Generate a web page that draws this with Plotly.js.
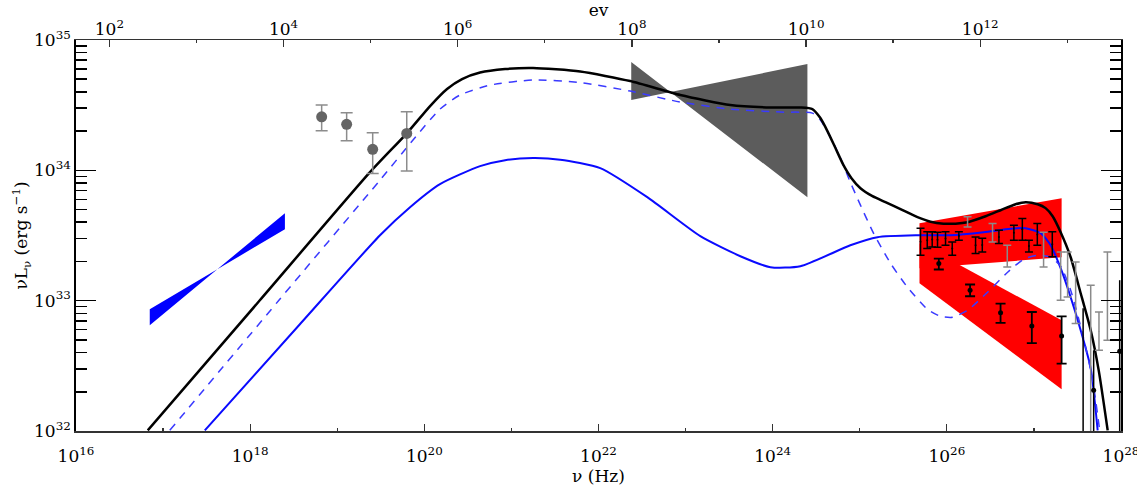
<!DOCTYPE html>
<html>
<head>
<meta charset="utf-8">
<script src="https://cdn.plot.ly/plotly-3.0.1.min.js"></script>
<style>
  html, body { margin: 0; padding: 0; background: #fff; }
  #sed { width: 1137px; height: 487px; }
</style>
</head>
<body>
<div id="sed"></div>
<script>
// All values are log10(nu / Hz) and log10(nu L_nu / erg s^-1).

// Total SED model (black)
const totalLogNu = [16.824, 18.111, 19.376, 19.801, 20.066, 20.261, 20.433, 20.640, 20.928, 21.249, 21.790, 22.364, 22.939, 23.514, 23.974, 24.318, 24.456, 24.548, 24.629, 24.721, 24.813, 24.905, 25.008, 25.146, 25.295, 25.468, 25.663, 25.813, 25.962, 26.100, 26.238, 26.445, 26.617, 26.790, 26.905, 27.043, 27.134, 27.215, 27.307, 27.422, 27.537, 27.652, 27.744, 27.847];
const totalLogL  = [32.005, 33.003, 33.986, 34.286, 34.493, 34.624, 34.700, 34.750, 34.777, 34.785, 34.758, 34.685, 34.578, 34.501, 34.482, 34.482, 34.470, 34.401, 34.301, 34.171, 34.040, 33.940, 33.863, 33.802, 33.756, 33.702, 33.641, 33.606, 33.591, 33.591, 33.602, 33.648, 33.694, 33.740, 33.756, 33.740, 33.710, 33.648, 33.525, 33.333, 33.057, 32.773, 32.465, 32.005];

// Model component (blue dashed)
const dashLogNu = [17.077, 18.330, 19.491, 19.870, 20.180, 20.410, 20.755, 21.249, 21.790, 22.364, 22.939, 23.514, 24.089, 24.456, 24.548, 24.663, 24.778, 24.892, 25.008, 25.158, 25.353, 25.548, 25.778, 25.928, 26.066, 26.238, 26.468, 26.698, 26.882, 27.043, 27.192, 27.307, 27.422, 27.571, 27.675, 27.755];
const dashLogL  = [32.005, 33.003, 33.925, 34.232, 34.470, 34.578, 34.654, 34.693, 34.674, 34.608, 34.524, 34.470, 34.447, 34.439, 34.386, 34.255, 34.094, 33.909, 33.733, 33.518, 33.287, 33.103, 32.934, 32.880, 32.873, 32.926, 33.065, 33.218, 33.318, 33.349, 33.333, 33.264, 33.080, 32.711, 32.389, 32.005];

// Model component (blue solid)
const blueLogNu = [17.479, 18.571, 19.491, 19.836, 20.180, 20.640, 20.928, 21.249, 21.560, 22.020, 22.560, 23.169, 23.629, 23.974, 24.318, 24.892, 25.203, 25.663, 26.043, 26.422, 26.732, 26.905, 27.077, 27.192, 27.307, 27.422, 27.537, 27.652, 27.732];
const blueLogL  = [32.005, 32.819, 33.502, 33.717, 33.894, 34.032, 34.078, 34.094, 34.082, 34.017, 33.794, 33.495, 33.341, 33.257, 33.264, 33.425, 33.487, 33.502, 33.502, 33.525, 33.552, 33.556, 33.518, 33.425, 33.249, 33.026, 32.773, 32.481, 32.005];

// Power-law bow ties: [start, end] of the band and the two limiting slopes
const uvBandLogNu    = [16.847, 18.399];
const uvEdgeALogL    = [32.934, 33.548];
const uvEdgeBLogL    = [32.811, 33.671];

const gevBandLogNu   = [22.376, 24.399];
const gevEdgeALogL   = [34.831, 33.794];
const gevEdgeBLogL   = [34.539, 34.816];

const tevHighLogNu   = [25.686, 27.318];
const tevHighTopLogL = [33.594, 33.786];
const tevHighBotLogL = [33.249, 33.333];

const tevLowLogNu    = [25.686, 27.318];
const tevLowTopLogL  = [33.441, 32.849];
const tevLowBotLogL  = [33.134, 32.320];

// X-ray points (grey)
const xrayLogNu = [18.821, 19.108, 19.407, 19.798];
const xrayLogL  = [34.411, 34.353, 34.161, 34.283];
const xrayLogHi = [34.501, 34.442, 34.288, 34.449];
const xrayLogLo = [34.303, 34.227, 33.976, 33.994];

// TeV spectrum, low state (black dots)
const lowLogNu = [25.908, 26.267, 26.617, 26.976, 27.318];
const lowLogL  = [33.285, 33.080, 32.907, 32.805, 32.728];
const lowLogHi = [33.323, 33.124, 32.978, 32.913, 32.880];
const lowLogLo = [33.239, 33.034, 32.829, 32.675, 32.517];

// TeV spectrum, high state (black bars)
const highLogNu = [25.698, 25.775, 25.832, 25.893, 25.985, 26.062, 26.138, 26.330, 26.407, 26.598, 26.770, 26.867, 26.943, 27.039, 27.211];
const highLogL  = [33.452, 33.464, 33.470, 33.468, 33.477, 33.400, 33.496, 33.426, 33.427, 33.489, 33.521, 33.547, 33.419, 33.508, 33.432];
const highLogHi = [33.556, 33.528, 33.528, 33.525, 33.528, 33.451, 33.528, 33.489, 33.479, 33.541, 33.579, 33.631, 33.464, 33.592, 33.528];
const highLogLo = [33.349, 33.400, 33.412, 33.410, 33.425, 33.349, 33.464, 33.362, 33.374, 33.439, 33.464, 33.464, 33.374, 33.425, 33.336];

// TeV spectrum, other epoch (grey bars)
const greyLogNu = [26.238, 26.525, 26.694, 27.111, 27.307, 27.387, 27.479, 27.652, 27.747, 27.844];
const greyLogL  = [33.605, 33.522, 33.342, 33.392, 33.189, 33.201, 33.061, 32.300, 32.766, 32.990];
const greyLogHi = [33.643, 33.592, 33.425, 33.525, 33.374, 33.374, 33.297, 33.118, 32.913, 33.374];
const greyLogLo = [33.566, 33.451, 33.259, 33.259, 33.003, 33.028, 32.824, 31.800, 32.619, 32.696];

// Highest-energy bins (black, lower edge off scale)
const tailLogNu = [27.565, 27.686, 27.985];
const tailLogL  = [31.950, 32.312, 32.611];
const tailLogHi = [32.942, 32.619, 33.157];
const tailLogLo = [31.800, 31.800, 31.800];

// Axis extents, and photon energy for the top axis: E = h nu
const LOG_NU_MIN = 16, LOG_NU_MAX = 28;
const LOG_L_MIN = 32, LOG_L_MAX = 35;
const LOG_EV_MIN = 2, LOG_EV_MAX = 13;
const H_EV_S = 4.135667e-15;

const pw = a => a.map(v => Math.pow(10, v));
const errs = (c, hi, lo) => ({
  type: 'data', symmetric: false,
  array: c.map((v, i) => Math.pow(10, hi[i]) - Math.pow(10, v)),
  arrayminus: c.map((v, i) => Math.pow(10, v) - Math.pow(10, lo[i]))
});

// Closed outline: first edge left->right, second edge right->left
function patch(nu, a, b, color) {
  return {
    x: pw([nu[0], nu[1], nu[1], nu[0], nu[0]]),
    y: pw([a[0], a[1], b[1], b[0], a[0]]),
    mode: 'lines', fill: 'toself', fillcolor: color,
    line: { width: 0, color: color }, hoverinfo: 'skip', showlegend: false
  };
}

const curve = (lx, ly, line) => ({
  x: pw(lx), y: pw(ly), mode: 'lines',
  line: Object.assign({ shape: 'spline', smoothing: 0.6 }, line),
  showlegend: false, hoverinfo: 'skip'
});

const points = (lx, ly, hi, lo, marker, bar) => ({
  x: pw(lx), y: pw(ly), mode: 'markers', marker: marker,
  error_y: Object.assign(errs(ly, hi, lo), bar),
  showlegend: false, hoverinfo: 'skip'
});

// empty trace that brings an extra (tick-only) axis pair into the figure
const axisHolder = (xa, ya) => ({ x: [], y: [], xaxis: xa, yaxis: ya, mode: 'markers', showlegend: false, hoverinfo: 'skip' });

const traces = [
  patch(uvBandLogNu, uvEdgeALogL, uvEdgeBLogL, '#0000ff'),
  patch(gevBandLogNu, gevEdgeALogL, gevEdgeBLogL, '#5c5c5c'),
  patch(tevHighLogNu, tevHighTopLogL, tevHighBotLogL, '#ff0000'),
  patch(tevLowLogNu, tevLowTopLogL, tevLowBotLogL, '#ff0000'),
  curve(blueLogNu, blueLogL, { color: '#0a0aff', width: 2 }),
  curve(dashLogNu, dashLogL, { color: '#3a3aff', width: 1.5, dash: '8px,7px' }),
  curve(totalLogNu, totalLogL, { color: '#000000', width: 2.5 }),
  points(greyLogNu, greyLogL, greyLogHi, greyLogLo, { size: 1, color: '#8a8a8a' }, { color: '#8a8a8a', thickness: 1.5, width: 4 }),
  points(highLogNu, highLogL, highLogHi, highLogLo, { size: 2, color: '#000' }, { color: '#000', thickness: 1.5, width: 4 }),
  points(lowLogNu, lowLogL, lowLogHi, lowLogLo, { size: 5, color: '#000' }, { color: '#000', thickness: 1.8, width: 5 }),
  points(tailLogNu, tailLogL, tailLogHi, tailLogLo, { size: 5, color: '#000' }, { color: '#000', thickness: 1.5, width: 0 }),
  points(xrayLogNu, xrayLogL, xrayLogHi, xrayLogLo, { size: 11, color: '#646464' }, { color: '#8c8c8c', thickness: 1.5, width: 6 }),
  axisHolder('x2', 'y'),
  axisHolder('x3', 'y'),
  axisHolder('x4', 'y'),
  axisHolder('x', 'y2')
];

const decades = (a, b, step) => { const r = []; for (let e = a; e <= b; e += step) r.push(Math.pow(10, e)); return r; };
const powText = vals => vals.map(v => '10<sup>' + Math.round(Math.log10(v)) + '</sup>');

const yMinor = [];
for (let e = LOG_L_MIN; e < LOG_L_MAX; e++) for (let m = 2; m <= 9; m++) yMinor.push(m * Math.pow(10, e));

const nuMajor = decades(LOG_NU_MIN, LOG_NU_MAX, 2);
const nuMinor = decades(LOG_NU_MIN + 1, LOG_NU_MAX - 1, 2);
const evMajor = decades(LOG_EV_MIN, LOG_EV_MAX, 2);
const evMinor = decades(LOG_EV_MIN + 1, LOG_EV_MAX, 2);
const lMajor = decades(LOG_L_MIN, LOG_L_MAX, 1);
const nuRange = [LOG_NU_MIN, LOG_NU_MAX];
const evRange = [LOG_NU_MIN + Math.log10(H_EV_S), LOG_NU_MAX + Math.log10(H_EV_S)];
const lRange = [LOG_L_MIN, LOG_L_MAX];

const font = { family: 'DejaVu Serif, Liberation Serif, serif', size: 17, color: '#000' };
const titleFont = { family: 'DejaVu Serif, Liberation Serif, serif', size: 17, color: '#000' };
const bare = { showgrid: false, zeroline: false, showline: false, showticklabels: false };
const xTick = { ticks: 'inside', tickwidth: 1.3, tickcolor: '#333' };

const layout = {
  width: 1137, height: 487,
  margin: { l: 76, r: 16, t: 40, b: 56 },
  paper_bgcolor: '#fff', plot_bgcolor: '#fff',
  font: font,
  showlegend: false,
  xaxis: Object.assign({
    type: 'log', range: nuRange,
    tickmode: 'array', tickvals: nuMajor, ticktext: powText(nuMajor), ticklen: 7,
    showline: true, linecolor: '#333', linewidth: 1.5, mirror: false,
    showgrid: false, zeroline: false,
    ticklabeloverflow: 'allow', ticklabelstandoff: 9,
    tickfont: font,
    title: { text: 'ν (Hz)', font: titleFont, standoff: 3 }
  }, xTick),
  xaxis2: Object.assign({
    type: 'log', range: evRange, overlaying: 'x', side: 'top', anchor: 'y',
    tickmode: 'array', tickvals: evMajor, ticktext: powText(evMajor), ticklen: 7,
    showline: true, linecolor: '#333', linewidth: 1.5,
    showgrid: false, zeroline: false,
    ticklabelstandoff: -3,
    tickfont: font,
    title: { text: 'ev', font: titleFont, standoff: 6 }
  }, xTick),
  // odd-decade ticks, bottom and top
  xaxis3: Object.assign({ type: 'log', range: nuRange, overlaying: 'x', side: 'bottom', anchor: 'y',
    tickmode: 'array', tickvals: nuMinor, ticklen: 3 }, xTick, bare),
  xaxis4: Object.assign({ type: 'log', range: evRange, overlaying: 'x', side: 'top', anchor: 'y',
    tickmode: 'array', tickvals: evMinor, ticklen: 3 }, xTick, bare),
  yaxis: {
    type: 'log', range: lRange,
    tickmode: 'array', tickvals: lMajor, ticktext: powText(lMajor),
    ticks: 'inside', ticklen: 20, tickwidth: 1.5, tickcolor: '#000',
    showline: true, linecolor: '#000', linewidth: 1.8, mirror: 'ticks',
    showgrid: false, zeroline: false,
    tickfont: font,
    title: { text: 'νL<sub>ν</sub> (erg s<sup>−1</sup>)', font: titleFont, standoff: 0 }
  },
  // intermediate 2..9 ticks, both sides
  yaxis2: Object.assign({ type: 'log', range: lRange, overlaying: 'y', side: 'left', anchor: 'x',
    tickmode: 'array', tickvals: yMinor, ticks: 'inside', ticklen: 11, tickwidth: 1.5, tickcolor: '#000',
    mirror: 'ticks' }, bare)
};

Plotly.newPlot('sed', traces, layout, { staticPlot: true, displayModeBar: false });
</script>
</body>
</html>
